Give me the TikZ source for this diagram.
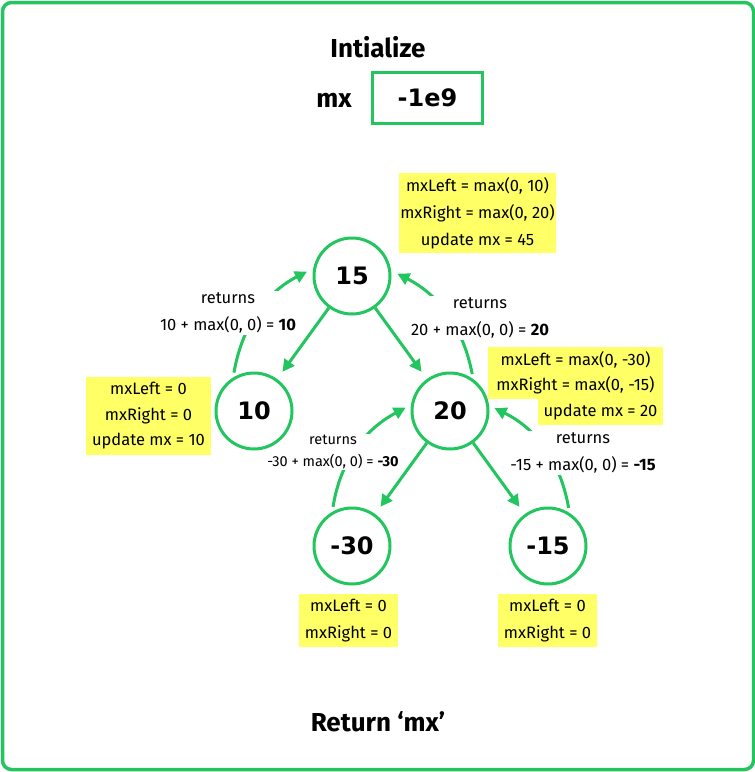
\documentclass[tikz,border=0pt]{standalone}
\usepackage{fontspec}
\setmainfont{Fira Sans}
\newfontfamily\numfont{DejaVu Sans}
\usetikzlibrary{arrows.meta}
\definecolor{gr}{RGB}{34,197,94}
\definecolor{yl}{RGB}{255,255,102}
\pgfdeclarelayer{bg}
\pgfdeclarelayer{mid}
\pgfsetlayers{bg,mid,main}
\begin{document}
\begin{tikzpicture}[x=1pt,y=1pt,
  circ/.style={circle, draw=gr, line width=3pt, minimum size=76pt, inner sep=0pt,
    font=\numfont\bfseries\fontsize{24}{28}\selectfont},
  arr/.style={draw=gr, line width=3pt, -{Triangle[length=12pt,width=12pt]}},
  lbl/.style={fill=white, inner sep=2pt, align=center, font=\fontsize{16.5}{27}\selectfont},
  lblsm/.style={fill=white, inner sep=1pt, align=center, font=\fontsize{14.5}{22}\selectfont},
  ybox/.style={fill=yl, inner sep=0pt, align=center, font=\fontsize{16.5}{26}\selectfont},
  head/.style={font=\bfseries\fontsize{26}{30}\selectfont}
]
\useasboundingbox (0,0) rectangle (755,-772);
\begin{pgfonlayer}{bg}
\fill[white] (0,0) rectangle (755,-772);
\draw[gr, line width=3.5pt, rounded corners=9pt] (2.5,-2.5) rectangle (753.5,-769.5);
\end{pgfonlayer}

% header
\node[head] (title) at (378,-47) {Intialize};
\node[font=\bfseries\fontsize{26}{30}\selectfont] (mxlab) at (334,-100) {mx};
\node[draw=gr, line width=3pt, minimum width=110pt, minimum height=51pt, inner sep=0pt,
  font=\numfont\bfseries\fontsize{24}{28}\selectfont] (mxbox) at (427.5,-98) {-1e9};

% tree nodes
\node[circ] (n15) at (352,-276) {15};
\node[circ] (n10) at (254,-411) {10};
\node[circ] (n20) at (450,-411) {20};
\node[circ] (n30) at (352,-546) {-30};
\node[circ] (n15b) at (548,-546) {-15};

\begin{pgfonlayer}{bg}
% tree edges
\draw[arr, shorten >=9pt] (n15) -- (n10);
\draw[arr, shorten >=9pt] (n15) -- (n20);
\draw[arr, shorten >=9pt] (n20) -- (n30);
\draw[arr, shorten >=9pt] (n20) -- (n15b);
% return arrows
\draw[arr, shorten <=5pt, shorten >=7pt] (n10.122) to[out=80,in=207] (n15.169);
\draw[arr, shorten <=5pt, shorten >=7pt] (n20.54) to[out=101,in=333] (n15.8);
\draw[arr, shorten <=5pt, shorten >=6pt] (n30.120) to[out=81,in=208] (n20.171);
\draw[arr, shorten <=5pt, shorten >=6pt] (n15b.57) to[out=100,in=334] (n20.8);
\end{pgfonlayer}

% return labels
\begin{pgfonlayer}{mid}
\node[lbl] (l1) at (228,-313) {returns\\10 + max(0, 0) = \textbf{10}};
\node[lbl] (l2) at (480,-318) {returns\\20 + max(0, 0) = \textbf{20}};
\node[lblsm] (l3) at (333,-452) {returns\\-30 + max(0, 0) = \textbf{-30}};
\node[lbl] (l4) at (583,-453) {returns\\-15 + max(0, 0) = \textbf{-15}};
\end{pgfonlayer}

% yellow info boxes
\node[ybox, font=\fontsize{16.5}{27}\selectfont, minimum width=157pt, minimum height=80pt] (y15) at (477.5,-213)
  {mxLeft = max(0, 10)\\mxRight = max(0, 20)\\update mx = 45};
\node[ybox, font=\fontsize{16.5}{25.5}\selectfont, minimum width=125pt, minimum height=78pt] (y10) at (148.5,-416)
  {mxLeft = 0\\mxRight = 0\\update mx = 10};
\node[ybox, font=\fontsize{16.5}{25.5}\selectfont, minimum width=175pt, minimum height=52pt] (y20a) at (575.5,-373)
  {mxLeft = max(0, -30)\\mxRight = max(0, -15)};
\node[ybox, minimum width=125pt, minimum height=26pt] (y20b) at (600.5,-412) {update mx = 20};
\node[ybox, font=\fontsize{16.5}{26.5}\selectfont, minimum width=99pt, minimum height=53pt] (y30) at (348.5,-620.5)
  {mxLeft = 0\\mxRight = 0};
\node[ybox, font=\fontsize{16.5}{26.5}\selectfont, minimum width=99pt, minimum height=53pt] (y15b) at (547.5,-620.5)
  {mxLeft = 0\\mxRight = 0};

% footer
\node[head] (ret) at (378,-722) {Return ‘mx’};
\end{tikzpicture}
\end{document}
